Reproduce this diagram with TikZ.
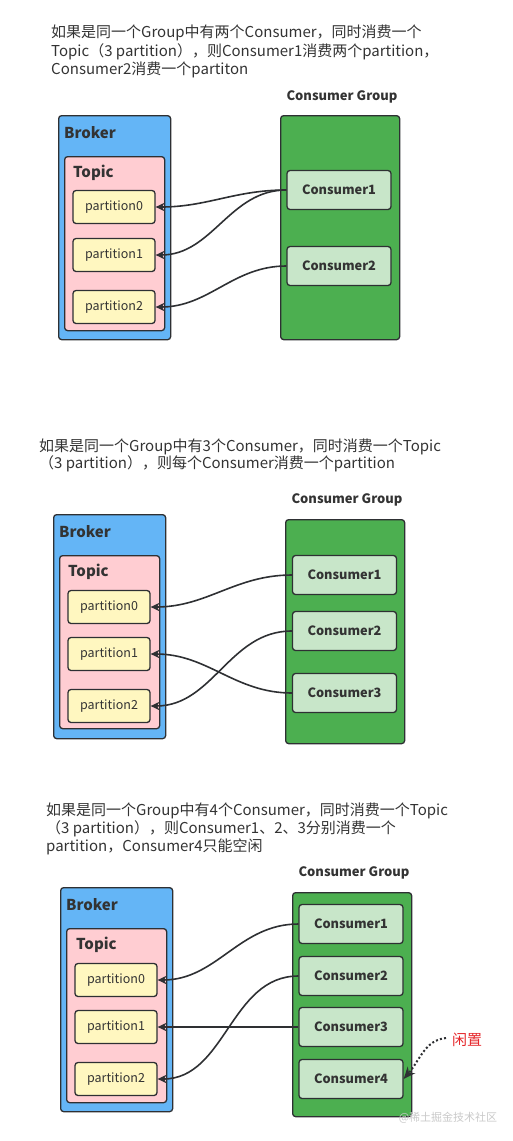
\documentclass[tikz,border=0pt]{standalone}
\usepackage{fontspec}
\setmainfont{Noto Sans CJK SC}
\usetikzlibrary{arrows.meta}
\definecolor{strokec}{HTML}{2E3033}
\definecolor{textc}{HTML}{333333}
\definecolor{brokerc}{HTML}{64B5F6}
\definecolor{topicc}{HTML}{FFCDD2}
\definecolor{partc}{HTML}{FFF7C0}
\definecolor{groupc}{HTML}{4CAF50}
\definecolor{consc}{HTML}{C8E6C9}
\definecolor{idlec}{HTML}{E5262A}
\definecolor{wmc}{HTML}{C9C9C9}
\begin{document}
\begin{tikzpicture}[x=1pt,y=-1pt,
  box/.style={draw=strokec, line width=1.3pt, rounded corners=3pt, inner sep=0pt},
  brokerbox/.style={box, fill=brokerc, anchor=north west, minimum width=112pt, minimum height=224pt},
  topicbox/.style={box, fill=topicc, anchor=north west, minimum width=100pt, minimum height=174pt},
  partbox/.style={box, fill=partc, minimum width=82pt, minimum height=33pt, text=textc, font=\fontsize{12.5}{14}\selectfont},
  groupbox/.style={box, fill=groupc, anchor=north west, minimum width=119pt, minimum height=224pt},
  consbox/.style={box, fill=consc, minimum width=104pt, minimum height=39pt, text=textc, font=\bfseries\fontsize{12.8}{14}\selectfont},
  title/.style={anchor=west, inner sep=0pt, text=textc, font=\bfseries\fontsize{15}{17}\selectfont},
  grouplabel/.style={inner sep=0pt, text=textc, font=\bfseries\fontsize{13}{15}\selectfont},
  desc/.style={anchor=west, inner sep=0pt, text=textc, font=\fontsize{15}{17}\selectfont},
  link/.style={draw=strokec, line width=1.6pt, -{Stealth[length=9pt,width=8.5pt]}},
]
\useasboundingbox (0,0) rectangle (513,1141);

% ---------- Panel 1 ----------
\node[desc] (d11) at (51,33) {如果是同一个Group中有两个Consumer，同时消费一个};
\node[desc] (d12) at (51,52) {Topic（3 partition），则Consumer1消费两个partition，};
\node[desc] (d13) at (51,70) {Consumer2消费一个partiton};

\node[brokerbox] (b1) at (58,115) {};
\node[title] (b1l) at (64,133) {Broker};
\node[topicbox] (t1) at (64,156) {};
\node[title] (t1l) at (73,173) {Topic};
\node[partbox] (p10) at (114,207) {partition0};
\node[partbox] (p11) at (114,255) {partition1};
\node[partbox] (p12) at (114,307) {partition2};

\node[grouplabel] (g1l) at (342,97) {Consumer Group};
\node[groupbox] (g1) at (280,115) {};
\node[consbox] (c11) at (339,190) {Consumer1};
\node[consbox] (c12) at (339,266) {Consumer2};

\draw[link] (c11.west) to[out=180,in=0] (p10.east);
\draw[link] (c11.west) to[out=180,in=0] (p11.east);
\draw[link] (c12.west) to[out=180,in=0] (p12.east);

% ---------- Panel 2 ----------
\node[desc] (d21) at (39,447) {如果是同一个Group中有3个Consumer，同时消费一个Topic};
\node[desc] (d22) at (39,464) {（3 partition），则每个Consumer消费一个partition};

\node[brokerbox] (b2) at (53,514) {};
\node[title] (b2l) at (59,532) {Broker};
\node[topicbox, minimum height=173pt] (t2) at (59,555) {};
\node[title] (t2l) at (68,572) {Topic};
\node[partbox] (p20) at (109,607) {partition0};
\node[partbox] (p21) at (109,654) {partition1};
\node[partbox] (p22) at (109,706) {partition2};

\node[grouplabel] (g2l) at (347,500) {Consumer Group};
\node[groupbox] (g2) at (285,519) {};
\node[consbox] (c21) at (344.5,575) {Consumer1};
\node[consbox] (c22) at (344.5,631) {Consumer2};
\node[consbox] (c23) at (344.5,693) {Consumer3};

\draw[link] (c21.west) to[out=180,in=0] (p20.east);
\draw[link] (c22.west) to[out=180,in=0] (p22.east);
\draw[link] (c23.west) to[out=180,in=0] (p21.east);

% ---------- Panel 3 ----------
\node[desc] (d31) at (46,811) {如果是同一个Group中有4个Consumer，同时消费一个Topic};
\node[desc] (d32) at (46,829) {（3 partition），则Consumer1、2、3分别消费一个};
\node[desc] (d33) at (46,847) {partition，Consumer4只能空闲};

\node[brokerbox] (b3) at (60,887) {};
\node[title] (b3l) at (66,905) {Broker};
\node[topicbox] (t3) at (66,928) {};
\node[title] (t3l) at (76,945) {Topic};
\node[partbox] (p30) at (116,980) {partition0};
\node[partbox] (p31) at (116,1027) {partition1};
\node[partbox] (p32) at (116,1079) {partition2};

\node[grouplabel] (g3l) at (354,873) {Consumer Group};
\node[groupbox] (g3) at (292,892) {};
\node[consbox] (c31) at (351,924) {Consumer1};
\node[consbox] (c32) at (351,976) {Consumer2};
\node[consbox] (c33) at (351,1027) {Consumer3};
\node[consbox] (c34) at (351,1079) {Consumer4};

\draw[link] (c31.west) to[out=180,in=0] (p30.east);
\draw[link] (c32.west) to[out=180,in=0] (p32.east);
\draw[link] (c33.west) -- (p31.east);

\node[inner sep=0pt, text=idlec, font=\fontsize{15}{17}\selectfont] (idle) at (467,1040) {闲置};
\coordinate (idles) at (446,1038);
\draw[draw=strokec, line width=2pt, dash pattern=on 2pt off 2.2pt, -{Stealth[length=12pt,width=10pt]}]
  (idles) .. controls (425,1040) and (420,1060) .. (c34.east);

\node[inner sep=0pt, text=wmc, font=\fontsize{11}{13}\selectfont] (wm) at (448,1118) {@稀土掘金技术社区};
\end{tikzpicture}
\end{document}
